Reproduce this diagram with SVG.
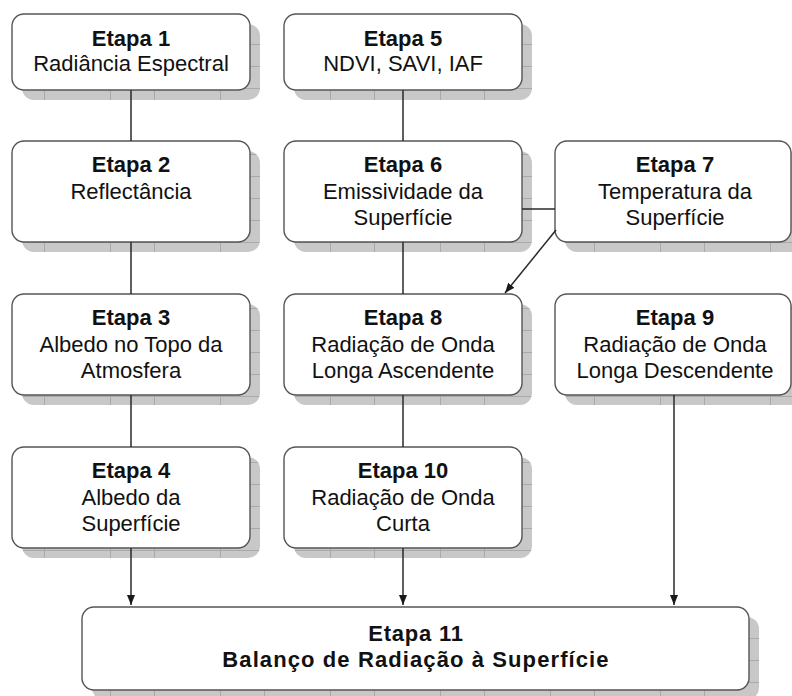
<svg xmlns="http://www.w3.org/2000/svg" width="792" height="696" viewBox="0 0 792 696">
<defs>
<pattern id="sh" width="110" height="22" patternUnits="userSpaceOnUse">
<rect width="110" height="22" fill="#c8c8c8"/>
<path d="M0,0.5H110 M0.5,0V22 M44.5,0V22" stroke="#a9a9a9" stroke-width="1" fill="none"/>
</pattern>
<marker id="ah" viewBox="0 0 10 8" refX="10" refY="4" markerWidth="10" markerHeight="8" markerUnits="userSpaceOnUse" orient="auto">
<path d="M0,0 L10,4 L0,8 z" fill="#1a1a1a"/>
</marker>
</defs>
<style>
.shadow{fill:url(#sh);}
.box{fill:#ffffff;stroke:#555555;stroke-width:1.4;}
text{font-family:"Liberation Sans",Arial,Helvetica,sans-serif;font-size:22px;fill:#111111;text-anchor:middle;}
.b{font-weight:bold;}
.c{stroke:#2a2a2a;stroke-width:1.5;fill:none;}
.a{marker-end:url(#ah);}
</style>
<rect width="792" height="696" fill="#ffffff"/>

<g id="etapa1">
<rect class="shadow" x="22" y="24" width="238" height="76" rx="12"/>
<rect class="box" x="12" y="14" width="238" height="76" rx="12"/>
<text class="b" x="131" y="46">Etapa 1</text>
<text x="131" y="71">Radiância Espectral</text>
</g>
<g id="etapa5">
<rect class="shadow" x="294" y="24" width="238" height="76" rx="12"/>
<rect class="box" x="284" y="14" width="238" height="76" rx="12"/>
<text class="b" x="403" y="46">Etapa 5</text>
<text x="403" y="71">NDVI, SAVI, IAF</text>
</g>
<g id="etapa2">
<rect class="shadow" x="22" y="151" width="238" height="101" rx="12"/>
<rect class="box" x="12" y="141" width="238" height="101" rx="12"/>
<text class="b" x="131" y="172">Etapa 2</text>
<text x="131" y="199">Reflectância</text>
</g>
<g id="etapa6">
<rect class="shadow" x="294" y="151" width="238" height="101" rx="12"/>
<rect class="box" x="284" y="141" width="238" height="101" rx="12"/>
<text class="b" x="403" y="172">Etapa 6</text>
<text x="403" y="199">Emissividade da</text>
<text x="403" y="225">Superfície</text>
</g>
<g id="etapa7">
<rect class="shadow" x="565" y="151" width="236" height="101" rx="12"/>
<rect class="box" x="555" y="141" width="236" height="101" rx="12"/>
<text class="b" x="675" y="172">Etapa 7</text>
<text x="675" y="199">Temperatura da</text>
<text x="675" y="225">Superfície</text>
</g>
<g id="etapa3">
<rect class="shadow" x="22" y="304" width="238" height="101" rx="12"/>
<rect class="box" x="12" y="294" width="238" height="101" rx="12"/>
<text class="b" x="131" y="325">Etapa 3</text>
<text x="131" y="352">Albedo no Topo da</text>
<text x="131" y="378">Atmosfera</text>
</g>
<g id="etapa8">
<rect class="shadow" x="294" y="304" width="238" height="101" rx="12"/>
<rect class="box" x="284" y="294" width="238" height="101" rx="12"/>
<text class="b" x="403" y="325">Etapa 8</text>
<text x="403" y="352">Radiação de Onda</text>
<text x="403" y="378">Longa Ascendente</text>
</g>
<g id="etapa9">
<rect class="shadow" x="565" y="304" width="236" height="101" rx="12"/>
<rect class="box" x="555" y="294" width="236" height="101" rx="12"/>
<text class="b" x="675" y="325">Etapa 9</text>
<text x="675" y="352">Radiação de Onda</text>
<text x="675" y="378">Longa Descendente</text>
</g>
<g id="etapa4">
<rect class="shadow" x="22" y="457" width="238" height="101" rx="12"/>
<rect class="box" x="12" y="447" width="238" height="101" rx="12"/>
<text class="b" x="131" y="478">Etapa 4</text>
<text x="131" y="505">Albedo da</text>
<text x="131" y="531">Superfície</text>
</g>
<g id="etapa10">
<rect class="shadow" x="294" y="457" width="238" height="101" rx="12"/>
<rect class="box" x="284" y="447" width="238" height="101" rx="12"/>
<text class="b" x="403" y="478">Etapa 10</text>
<text x="403" y="505">Radiação de Onda</text>
<text x="403" y="531">Curta</text>
</g>
<g id="etapa11">
<rect class="shadow" x="92" y="617" width="667" height="83" rx="12"/>
<rect class="box" x="82" y="607" width="667" height="83" rx="12"/>
<text class="b" x="416" y="641" letter-spacing="0.8">Etapa 11</text>
<text class="b" x="416" y="667" letter-spacing="1.1">Balanço de Radiação à Superfície</text>
</g>

<g id="connectors">
<line class="c" x1="131" y1="90" x2="131" y2="141"/>
<line class="c" x1="131" y1="242" x2="131" y2="294"/>
<line class="c" x1="131" y1="395" x2="131" y2="447"/>
<line class="c a" x1="131" y1="548" x2="131" y2="605"/>
<line class="c" x1="403" y1="90" x2="403" y2="141"/>
<line class="c" x1="403" y1="242" x2="403" y2="294"/>
<line class="c" x1="403" y1="395" x2="403" y2="447"/>
<line class="c a" x1="403" y1="548" x2="403" y2="605"/>
<line class="c a" x1="674" y1="395" x2="674" y2="605"/>
<line class="c" x1="522" y1="209" x2="555" y2="209"/>
<line class="c a" x1="556" y1="230" x2="505" y2="293"/>
</g>
</svg>
